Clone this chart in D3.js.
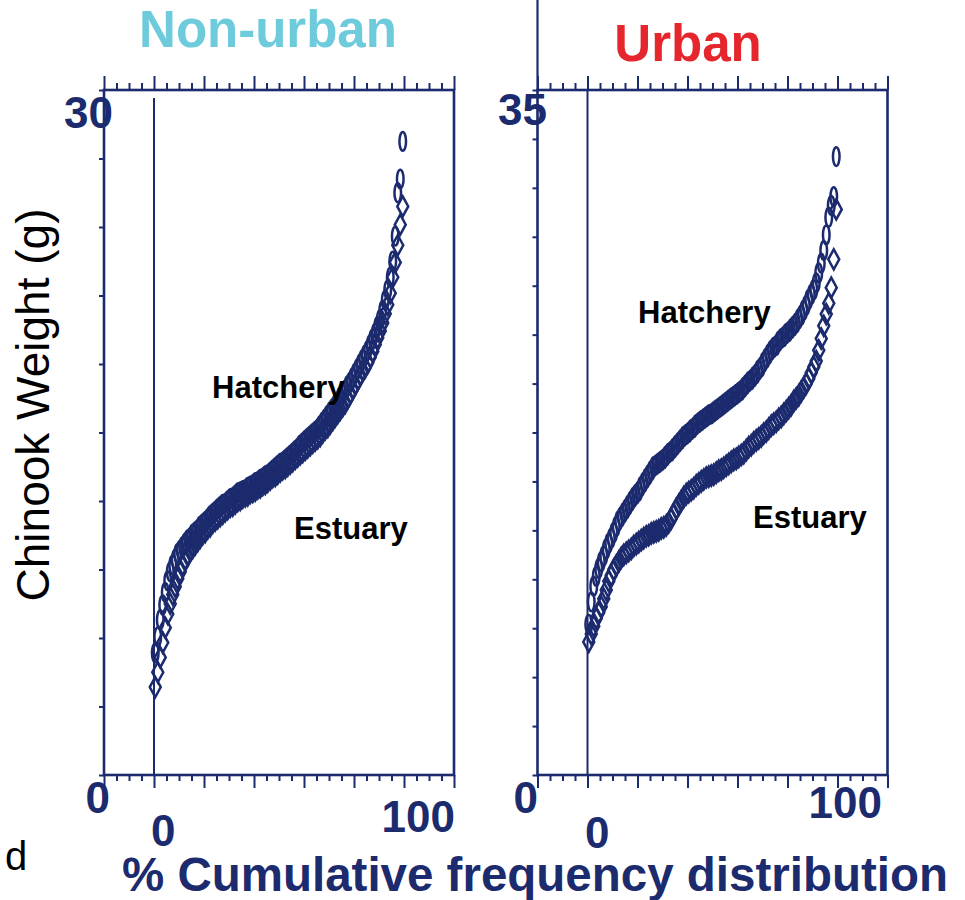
<!DOCTYPE html>
<html>
<head>
<meta charset="utf-8">
<script src="https://cdn.jsdelivr.net/npm/d3@7"></script>
<style>
  html, body { margin: 0; padding: 0; background: #fff; }
  svg { display: block; }
</style>
</head>
<body>
<svg id="chart" width="965" height="900"></svg>
<script>
// ---- data -------------------------------------------------------------
const panelTitles = ["Non-urban", "Urban"];
const yMaxValues = [30, 35];
const yTickSteps = [3, 2.5];
const yTopLabels = ["30", "35"];
const yBottomLabel = "0";
const xTickLabels = ["0", "100"];
const seriesNames = ["Hatchery", "Estuary"];
const xAxisTitle = "% Cumulative frequency distribution";
const yAxisTitle = "Chinook Weight (g)";
const panelLetter = "d";

// Sorted individual fish weights (g) for each group
const nonUrbanHatchery = [
  5.35, 6.05, 6.8, 7.45, 8.0, 8.5, 8.9, 9.2, 9.45, 9.7,
  9.85, 10.0, 10.15, 10.3, 10.4, 10.55, 10.65, 10.75, 10.9, 11.0,
  11.1, 11.2, 11.35, 11.45, 11.55, 11.65, 11.75, 11.85, 11.9, 12.0,
  12.1, 12.15, 12.25, 12.35, 12.4, 12.45, 12.5, 12.6, 12.65, 12.7,
  12.8, 12.85, 12.95, 13.0, 13.1, 13.15, 13.25, 13.35, 13.45, 13.55,
  13.65, 13.7, 13.8, 13.9, 14.0, 14.1, 14.2, 14.3, 14.45, 14.55,
  14.65, 14.75, 14.85, 14.95, 15.05, 15.15, 15.3, 15.45, 15.6, 15.75,
  15.9, 16.05, 16.2, 16.35, 16.55, 16.7, 16.85, 17.05, 17.2, 17.4,
  17.6, 17.8, 18.0, 18.2, 18.4, 18.6, 18.85, 19.1, 19.35, 19.65,
  19.95, 20.35, 20.8, 21.25, 21.8, 22.5, 23.6, 25.5, 26.1, 27.75
];
const nonUrbanEstuary = [
  3.85, 4.5, 5.15, 5.8, 6.45, 7.05, 7.5, 7.9, 8.25, 8.6,
  8.9, 9.2, 9.45, 9.6, 9.8, 9.95, 10.1, 10.25, 10.4, 10.55,
  10.65, 10.8, 10.9, 11.05, 11.15, 11.25, 11.35, 11.45, 11.55, 11.65,
  11.75, 11.8, 11.9, 12.0, 12.05, 12.15, 12.2, 12.25, 12.35, 12.4,
  12.45, 12.55, 12.6, 12.7, 12.75, 12.85, 12.95, 13.05, 13.1, 13.2,
  13.3, 13.4, 13.45, 13.55, 13.65, 13.75, 13.85, 13.95, 14.05, 14.15,
  14.25, 14.35, 14.45, 14.55, 14.65, 14.75, 14.85, 15.0, 15.15, 15.25,
  15.4, 15.55, 15.7, 15.85, 16.0, 16.15, 16.3, 16.5, 16.7, 16.9,
  17.1, 17.3, 17.5, 17.7, 17.85, 18.05, 18.3, 18.55, 18.85, 19.15,
  19.45, 19.8, 20.2, 20.6, 21.1, 21.8, 22.45, 23.2, 24.1, 24.9
];
const urbanHatchery = [
  7.7, 8.85, 9.65, 10.15, 10.55, 10.9, 11.2, 11.55, 11.85, 12.1,
  12.4, 12.7, 13.0, 13.2, 13.4, 13.6, 13.8, 14.0, 14.2, 14.35,
  14.5, 14.75, 14.95, 15.15, 15.35, 15.55, 15.75, 15.85, 15.95, 16.05,
  16.15, 16.3, 16.45, 16.55, 16.7, 16.85, 17.0, 17.15, 17.3, 17.4,
  17.5, 17.65, 17.75, 17.9, 18.0, 18.1, 18.2, 18.3, 18.4, 18.45,
  18.55, 18.65, 18.75, 18.85, 18.95, 19.05, 19.15, 19.25, 19.35, 19.45,
  19.55, 19.65, 19.8, 19.95, 20.1, 20.2, 20.35, 20.5, 20.7, 20.85,
  21.1, 21.3, 21.5, 21.7, 21.85, 21.95, 22.15, 22.3, 22.4, 22.55,
  22.65, 22.8, 22.95, 23.1, 23.3, 23.5, 23.75, 24.0, 24.3, 24.55,
  24.8, 25.15, 25.65, 26.15, 26.8, 27.6, 28.5, 29.1, 29.55, 31.6
];
const urbanEstuary = [
  6.8, 7.2, 7.6, 8.0, 8.3, 8.6, 9.0, 9.45, 9.9, 10.2,
  10.5, 10.7, 10.9, 11.1, 11.25, 11.35, 11.45, 11.55, 11.7, 11.8,
  11.9, 12.0, 12.1, 12.2, 12.25, 12.35, 12.4, 12.45, 12.5, 12.6,
  12.65, 12.75, 12.9, 13.1, 13.35, 13.6, 13.8, 14.0, 14.2, 14.35,
  14.45, 14.55, 14.65, 14.8, 14.9, 15.0, 15.1, 15.2, 15.25, 15.3,
  15.35, 15.45, 15.55, 15.6, 15.7, 15.8, 15.9, 16.0, 16.1, 16.15,
  16.25, 16.35, 16.45, 16.6, 16.75, 16.85, 17.0, 17.1, 17.2, 17.3,
  17.45, 17.55, 17.7, 17.85, 17.95, 18.05, 18.2, 18.3, 18.45, 18.6,
  18.75, 18.9, 19.1, 19.25, 19.4, 19.6, 19.8, 20.0, 20.25, 20.55,
  20.85, 21.15, 21.7, 22.3, 22.95, 23.55, 24.1, 24.9, 26.35, 28.9
];

// ---- drawing ----------------------------------------------------------
const NAVY = "#1c2a6e";
const FONT = "'Liberation Sans', Arial, Helvetica, sans-serif";
const svg = d3.select("#chart");
svg.append("rect").attr("width", 965).attr("height", 900).attr("fill", "#fff");

const panelLayout = [
  { left: 104, titleX: 268, titleY: 47, titleColor: "#6dcbdc",
    yTopAnchor: [113, 128], yZeroAnchor: [110, 813],
    x0Anchor: [151, 846], x100Anchor: [455, 832],
    hatchLabel: [212, 398], estLabel: [294, 539], spine: false },
  { left: 537.5, titleX: 688, titleY: 61, titleColor: "#e5262d",
    yTopAnchor: [547, 125], yZeroAnchor: [538, 813],
    x0Anchor: [585, 848], x100Anchor: [882, 818],
    hatchLabel: [638, 323], estLabel: [753, 528], spine: true }
];
const TOP = 90, BOTTOM = 775, WIDTH = 350;

const groups = [
  { hatchery: nonUrbanHatchery, estuary: nonUrbanEstuary },
  { hatchery: urbanHatchery, estuary: urbanEstuary }
];

// cumulative frequency (%) of each sorted weight
function ecdf(weights) {
  const s = weights.slice().sort(d3.ascending);
  return s.map((w, i) => ({ pct: (i + 0.5) / s.length * 100, w }));
}

const diamond = "M0,-10L5.5,0L0,10L-5.5,0Z";

panelLayout.forEach((p, k) => {
  const x = d3.scaleLinear().domain([-20, 120]).range([p.left, p.left + WIDTH]);
  const y = d3.scaleLinear().domain([0, yMaxValues[k]]).range([BOTTOM, TOP]);
  const g = svg.append("g");

  // title
  g.append("text").attr("x", p.titleX).attr("y", p.titleY)
    .attr("text-anchor", "middle").attr("font-family", FONT)
    .attr("font-weight", "bold").attr("font-size", 51)
    .attr("fill", p.titleColor).text(panelTitles[k]);

  if (p.spine) {
    g.append("line").attr("x1", p.left).attr("x2", p.left)
      .attr("y1", 0).attr("y2", TOP)
      .attr("stroke", NAVY).attr("stroke-width", 2.2);
  }

  // top and bottom tick axes
  const majors = d3.range(-20, 121, 20);
  const minors = d3.range(-20, 121, 5).filter(v => v % 20 !== 0);
  const axStyle = sel => {
    sel.select(".domain").remove();
    sel.selectAll("line").attr("stroke", NAVY).attr("stroke-width", 2);
  };
  g.append("g").attr("transform", `translate(0,${TOP})`)
    .call(d3.axisTop(x).tickValues(majors).tickSize(14).tickFormat("")).call(axStyle);
  g.append("g").attr("transform", `translate(0,${TOP})`)
    .call(d3.axisTop(x).tickValues(minors).tickSize(7).tickFormat("")).call(axStyle);
  g.append("g").attr("transform", `translate(0,${BOTTOM})`)
    .call(d3.axisBottom(x).tickValues(majors).tickSize(13).tickFormat("")).call(axStyle);
  g.append("g").attr("transform", `translate(0,${BOTTOM})`)
    .call(d3.axisBottom(x).tickValues(minors).tickSize(6).tickFormat("")).call(axStyle);

  // left ticks
  const yTicks = d3.range(0, yMaxValues[k] + 0.001, yTickSteps[k]);
  g.append("g").attr("transform", `translate(${p.left},0)`)
    .call(d3.axisLeft(y).tickValues(yTicks).tickSize(5).tickFormat("")).call(axStyle);

  // frame
  g.append("rect").attr("x", x(-20)).attr("y", TOP)
    .attr("width", x(120) - x(-20)).attr("height", BOTTOM - TOP)
    .attr("fill", "none").attr("stroke", NAVY).attr("stroke-width", 2.6);

  // zero reference line
  g.append("line").attr("x1", x(0)).attr("x2", x(0))
    .attr("y1", k === 0 ? TOP + 8 : TOP).attr("y2", BOTTOM)
    .attr("stroke", NAVY).attr("stroke-width", 2);

  // tick labels
  const lab = (pos, txt, anchor) => g.append("text")
    .attr("x", pos[0]).attr("y", pos[1]).attr("text-anchor", anchor)
    .attr("font-family", FONT).attr("font-weight", "bold").attr("font-size", 44)
    .attr("fill", NAVY).text(txt);
  lab(p.yTopAnchor, yTopLabels[k], "end");
  lab(p.yZeroAnchor, yBottomLabel, "end");
  lab(p.x0Anchor, xTickLabels[0], "start");
  lab(p.x100Anchor, xTickLabels[1], "end");

  // estuary diamonds
  g.append("g").selectAll("path").data(ecdf(groups[k].estuary)).join("path")
    .attr("d", diamond)
    .attr("transform", d => `translate(${x(d.pct)},${y(d.w)})`)
    .attr("fill", "none").attr("stroke", NAVY).attr("stroke-width", 2.5);

  // hatchery ellipses
  g.append("g").selectAll("ellipse").data(ecdf(groups[k].hatchery)).join("ellipse")
    .attr("cx", d => x(d.pct)).attr("cy", d => y(d.w))
    .attr("rx", 3.3).attr("ry", 9.4)
    .attr("fill", "none").attr("stroke", NAVY).attr("stroke-width", 2.5);

  // series labels
  const ann = (pos, txt) => g.append("text").attr("x", pos[0]).attr("y", pos[1])
    .attr("font-family", FONT).attr("font-weight", "bold").attr("font-size", 31)
    .attr("fill", "#000").text(txt);
  ann(p.hatchLabel, seriesNames[0]);
  ann(p.estLabel, seriesNames[1]);
});

// shared axis titles
svg.append("text").attr("transform", "translate(49,405) rotate(-90)")
  .attr("text-anchor", "middle").attr("font-family", FONT)
  .attr("font-size", 46).attr("fill", "#000").text(yAxisTitle);

svg.append("text").attr("x", 535).attr("y", 891)
  .attr("text-anchor", "middle").attr("font-family", FONT)
  .attr("font-weight", "bold").attr("font-size", 47.5)
  .attr("fill", NAVY).text(xAxisTitle);

svg.append("text").attr("x", 5).attr("y", 870)
  .attr("font-family", FONT).attr("font-size", 40)
  .attr("fill", "#000").text(panelLetter);
</script>
</body>
</html>
